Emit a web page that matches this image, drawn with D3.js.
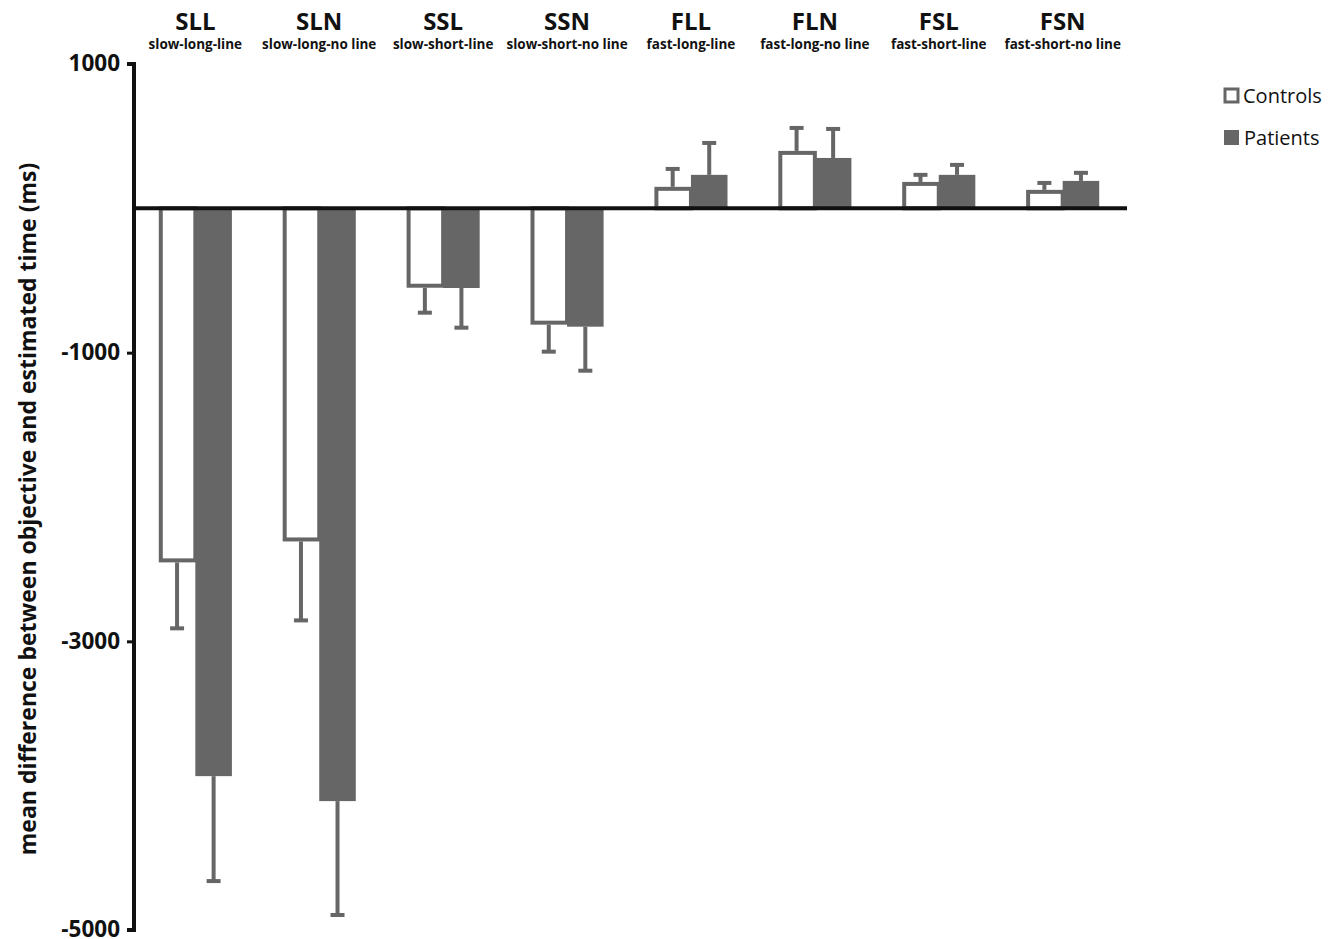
<!DOCTYPE html>
<html><head><meta charset="utf-8">
<script src="https://cdn.jsdelivr.net/npm/d3@7"></script>
<style>body{margin:0;background:#fff}svg{display:block}text{font-family:"Open Sans",Lato,sans-serif}</style>
</head><body>
<script>
const codes = ["SLL","SLN","SSL","SSN","FLL","FLN","FSL","FSN"];
const names = ["slow-long-line","slow-long-no line","slow-short-line","slow-short-no line","fast-long-line","fast-long-no line","fast-short-line","fast-short-no line"];
const series = ["Controls","Patients"];
const controls = [-2453,-2308,-550,-806,149,398,183,128];
const controlsErr = [457,547,173,187,124,159,49,48];
const patients = [-3934,-4107,-552,-820,232,349,232,190];
const patientsErr = [727,789,275,305,221,201,69,56];
const yTicks = [1000,-1000,-3000,-5000];

const W=1333,H=939;
const svg=d3.select("body").append("svg").attr("width",W).attr("height",H);
const y=d3.scaleLinear().domain([-5000,1000]).range([930,64]);
const x=d3.scaleBand().domain(codes).range([134,1124]).paddingInner(0.41).paddingOuter(0.2);
const xs=d3.scaleBand().domain(series).range([0,x.bandwidth()]);
const gray="#666";

const data=codes.map((c,i)=>({c,vals:[{s:"Controls",v:controls[i],e:controlsErr[i]},{s:"Patients",v:patients[i],e:patientsErr[i]}]}));

const g=svg.append("g");
data.forEach(d=>{
  d.vals.forEach(b=>{
    const cx=x(d.c)+xs(b.s)+xs.bandwidth()/2;
    const end=b.v+Math.sign(b.v)*b.e;
    g.append("line").attr("x1",cx).attr("x2",cx).attr("y1",y(b.v)).attr("y2",y(end)).attr("stroke",gray).attr("stroke-width",4);
    g.append("line").attr("x1",cx-7).attr("x2",cx+7).attr("y1",y(end)).attr("y2",y(end)).attr("stroke",gray).attr("stroke-width",4);
  });
});
data.forEach(d=>{
  d.vals.forEach(b=>{
    const x0=x(d.c)+xs(b.s);
    const y0=Math.min(y(b.v),y(0)), h=Math.abs(y(b.v)-y(0));
    if(b.s==="Controls"){
      g.append("rect").attr("x",x0+2).attr("y",y0+(b.v<0?0:2)).attr("width",xs.bandwidth()-2).attr("height",Math.max(0,h-2))
        .attr("fill","#fff").attr("stroke",gray).attr("stroke-width",4);
    } else {
      g.append("rect").attr("x",x0).attr("y",y0).attr("width",xs.bandwidth()).attr("height",h).attr("fill",gray);
    }
  });
});

svg.append("line").attr("x1",134).attr("x2",1127).attr("y1",y(0)).attr("y2",y(0)).attr("stroke","#111").attr("stroke-width",4);

const ax=svg.append("g").attr("transform","translate(134,0)")
  .call(d3.axisLeft(y).tickValues(yTicks).tickSize(7).tickPadding(7).tickFormat(d=>String(d)));
ax.select(".domain").attr("stroke","#111").attr("stroke-width",4).attr("d",`M-7,${y(1000)}H0V${y(-5000)}H-7`);
ax.selectAll(".tick line").attr("stroke","#111").attr("stroke-width",3);
ax.selectAll(".tick text").attr("font-size",22.5).attr("font-weight","bold").attr("fill","#111").attr("font-family","Open Sans").attr("dy","0.3em");

svg.append("text").attr("transform","translate(36,509) rotate(-90)").attr("text-anchor","middle")
  .attr("font-size",23).attr("font-weight","bold").attr("fill","#111")
  .text("mean difference between objective and estimated time (ms)");

codes.forEach((c,i)=>{
  const cx=x(c)+x.bandwidth()/2;
  svg.append("text").attr("x",cx).attr("y",30).attr("text-anchor","middle").attr("font-size",24).attr("font-weight","bold").attr("fill","#111").text(c);
  svg.append("text").attr("x",cx).attr("y",49).attr("text-anchor","middle").attr("font-size",13.5).attr("font-weight","bold").attr("fill","#111").text(names[i]);
});

const lg=svg.append("g");
lg.append("rect").attr("x",1225).attr("y",89).attr("width",13).attr("height",13).attr("fill","#fff").attr("stroke",gray).attr("stroke-width",3);
lg.append("text").attr("x",1243).attr("y",103).attr("font-size",20).attr("fill","#111").text(series[0]);
lg.append("rect").attr("x",1224).attr("y",130).attr("width",15).attr("height",15).attr("fill",gray);
lg.append("text").attr("x",1244).attr("y",145).attr("font-size",20).attr("fill","#111").text(series[1]);
</script>
</body></html>
